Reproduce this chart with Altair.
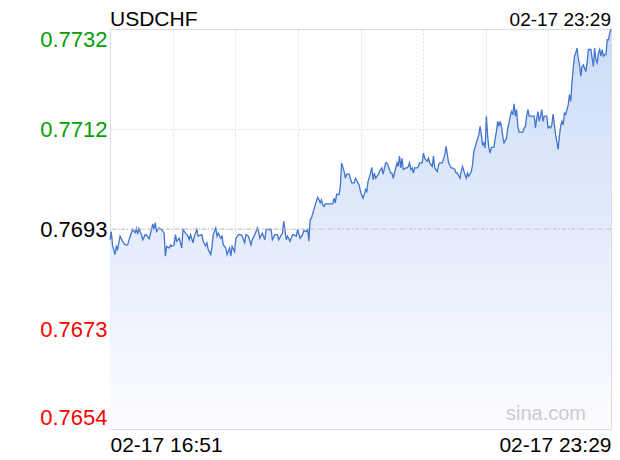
import altair as alt
import pandas as pd

# ---- data ----
symbol = "USDCHF"
last_time = "02-17 23:29"
x_labels = ["02-17 16:51", "02-17 23:29"]
x_span = 398  # minutes from 16:51 to 23:29
prev_close = 0.7693
y_ticks = [0.7654, 0.76735, 0.7693, 0.77125, 0.7732]
y_labels = ["0.7654", "0.7673", "0.7693", "0.7712", "0.7732"]

minutes = [
    0, 1, 2, 4, 5, 6, 8, 10, 12, 14, 16, 18, 20, 21, 22, 23, 25, 26, 28, 29,
    31, 32, 34, 35, 36, 37, 39, 41, 43, 44, 45, 47, 48, 49, 51, 52, 53, 55, 57, 58,
    60, 62, 63, 64, 66, 67, 69, 70, 73, 74, 76, 77, 78, 80, 81, 82, 84, 85, 86, 88,
    89, 90, 92, 93, 95, 96, 97, 99, 100, 102, 104, 105, 107, 108, 110, 112, 113, 115, 117, 118,
    119, 121, 123, 124, 126, 128, 129, 131, 133, 134, 137, 138, 140, 141, 143, 145, 146, 148, 149, 151,
    153, 154, 156, 157, 158, 159, 160, 162, 163, 164, 165, 166, 167, 168, 169, 170, 171, 173, 175, 177,
    178, 179, 180, 181, 182, 183, 184, 186, 187, 188, 189, 190, 192, 193, 194, 195, 197, 198, 199, 201,
    202, 203, 204, 205, 207, 208, 209, 210, 211, 213, 214, 216, 217, 219, 220, 222, 223, 224, 225, 227,
    228, 229, 230, 231, 232, 233, 235, 236, 237, 238, 239, 240, 241, 242, 244, 245, 246, 248, 249, 250,
    252, 253, 254, 256, 257, 258, 260, 261, 262, 264, 266, 267, 268, 269, 271, 272, 274, 275, 276, 278,
    279, 280, 282, 283, 284, 285, 287, 288, 289, 291, 293, 294, 295, 296, 297, 298, 299, 300, 301, 302,
    303, 305, 306, 307, 308, 309, 310, 311, 312, 313, 315, 316, 317, 318, 319, 320, 321, 322, 323, 324,
    325, 326, 328, 329, 330, 331, 332, 333, 334, 336, 337, 338, 339, 340, 341, 342, 343, 344, 345, 347,
    348, 349, 350, 351, 352, 353, 354, 356, 357, 358, 359, 360, 361, 362, 363, 364, 365, 366, 367, 368,
    369, 370, 371, 372, 373, 374, 375, 376, 378, 379, 380, 382, 383, 384, 385, 386, 387, 388, 389, 390,
    391, 392, 393, 394, 395, 396, 397, 398,
]
prices = [
    0.76909, 0.76925, 0.76899, 0.76880, 0.76896, 0.76890, 0.76916, 0.76906, 0.76899, 0.76899,
    0.76916, 0.76929, 0.76923, 0.76931, 0.76920, 0.76931, 0.76919, 0.76909, 0.76919, 0.76918,
    0.76911, 0.76919, 0.76940, 0.76929, 0.76942, 0.76925, 0.76932, 0.76929, 0.76922, 0.76877,
    0.76896, 0.76893, 0.76899, 0.76896, 0.76899, 0.76919, 0.76906, 0.76912, 0.76893, 0.76929,
    0.76922, 0.76916, 0.76909, 0.76919, 0.76903, 0.76916, 0.76929, 0.76916, 0.76919, 0.76906,
    0.76897, 0.76903, 0.76890, 0.76880, 0.76896, 0.76919, 0.76932, 0.76916, 0.76922, 0.76912,
    0.76916, 0.76899, 0.76893, 0.76880, 0.76893, 0.76877, 0.76896, 0.76886, 0.76912, 0.76919,
    0.76919, 0.76916, 0.76903, 0.76919, 0.76916, 0.76899, 0.76909, 0.76919, 0.76932, 0.76925,
    0.76912, 0.76922, 0.76909, 0.76929, 0.76929, 0.76929, 0.76909, 0.76919, 0.76919, 0.76909,
    0.76922, 0.76945, 0.76909, 0.76916, 0.76906, 0.76919, 0.76919, 0.76916, 0.76929, 0.76912,
    0.76919, 0.76927, 0.76925, 0.76931, 0.76906, 0.76948, 0.76951, 0.76968, 0.76977, 0.76984,
    0.76992, 0.76987, 0.76981, 0.76987, 0.76977, 0.76974, 0.76979, 0.76979, 0.76979, 0.76979,
    0.76990, 0.76981, 0.76998, 0.76997, 0.76997, 0.77013, 0.77059, 0.77042, 0.77029, 0.77037,
    0.77037, 0.77037, 0.77020, 0.77020, 0.77020, 0.77029, 0.77020, 0.77015, 0.77003, 0.76990,
    0.76997, 0.77007, 0.77003, 0.77023, 0.77039, 0.77050, 0.77026, 0.77039, 0.77029, 0.77036,
    0.77042, 0.77049, 0.77037, 0.77059, 0.77059, 0.77046, 0.77039, 0.77039, 0.77029, 0.77049,
    0.77059, 0.77052, 0.77072, 0.77049, 0.77068, 0.77046, 0.77049, 0.77049, 0.77052, 0.77059,
    0.77046, 0.77049, 0.77039, 0.77049, 0.77049, 0.77052, 0.77059, 0.77059, 0.77078, 0.77068,
    0.77062, 0.77068, 0.77059, 0.77052, 0.77072, 0.77049, 0.77042, 0.77055, 0.77059, 0.77059,
    0.77075, 0.77091, 0.77075, 0.77059, 0.77049, 0.77049, 0.77046, 0.77039, 0.77039, 0.77029,
    0.77042, 0.77052, 0.77036, 0.77029, 0.77039, 0.77033, 0.77042, 0.77055, 0.77081, 0.77098,
    0.77114, 0.77130, 0.77114, 0.77094, 0.77098, 0.77088, 0.77150, 0.77111, 0.77088, 0.77078,
    0.77089, 0.77089, 0.77107, 0.77120, 0.77140, 0.77130, 0.77140, 0.77130, 0.77111, 0.77098,
    0.77107, 0.77127, 0.77137, 0.77150, 0.77159, 0.77153, 0.77174, 0.77150, 0.77163, 0.77130,
    0.77119, 0.77119, 0.77119, 0.77127, 0.77130, 0.77150, 0.77163, 0.77150, 0.77150, 0.77150,
    0.77150, 0.77127, 0.77146, 0.77159, 0.77140, 0.77150, 0.77163, 0.77140, 0.77150, 0.77150,
    0.77127, 0.77130, 0.77127, 0.77133, 0.77154, 0.77133, 0.77114, 0.77085, 0.77111, 0.77130,
    0.77140, 0.77133, 0.77156, 0.77153, 0.77163, 0.77172, 0.77192, 0.77179, 0.77215, 0.77244,
    0.77267, 0.77273, 0.77283, 0.77263, 0.77250, 0.77228, 0.77247, 0.77250, 0.77237, 0.77254,
    0.77280, 0.77280, 0.77263, 0.77247, 0.77283, 0.77260, 0.77254, 0.77273, 0.77280, 0.77267,
    0.77280, 0.77267, 0.77270, 0.77270, 0.77299, 0.77299, 0.77312, 0.77320,
]

df = pd.DataFrame({"m": minutes, "p": prices})

FONT = "Liberation Sans"

# label expressions built from the lists
y_expr = ""
for v, lab in zip(y_ticks[:-1], y_labels[:-1]):
    y_expr += f"abs(datum.value - {v}) < 0.0001 ? '{lab}' : "
y_expr += f"'{y_labels[-1]}'"
x_expr = f"datum.value == 0 ? '{x_labels[0]}' : datum.value == {x_span} ? '{x_labels[1]}' : ''"
x_grid = [x_span * i / 8 for i in range(9)]

x_scale = alt.Scale(domain=[0, x_span], nice=False, zero=False)
y_scale = alt.Scale(domain=[y_ticks[0], y_ticks[-1]], nice=False, zero=False)

gradient = alt.Gradient(
    gradient="linear",
    stops=[alt.GradientStop(color="#cbdbf6", offset=0),
           alt.GradientStop(color="#fbfcff", offset=1)],
    x1=1, x2=1, y1=0, y2=1,
)

x_axis = alt.Axis(
    values=x_grid, labelExpr=x_expr, title=None, grid=True, gridColor="#dddddd",
    gridDash=[2, 2], domain=False, ticks=False, labelFlush=True, labelOverlap=False,
    labelFontSize=21, labelFont=FONT, labelColor="#000000", labelPadding=5,
)
y_axis = alt.Axis(
    values=y_ticks, labelExpr=y_expr, title=None, grid=True, gridColor="#dddddd",
    gridDash=[2, 2], domain=False, ticks=False, labelFlush=True, labelOverlap=False,
    labelFontSize=22, labelFont=FONT, labelPadding=3,
    labelColor={
        "condition": [
            {"test": f"datum.value > {prev_close + 0.0001}", "value": "#00a000"},
            {"test": f"datum.value < {prev_close - 0.0001}", "value": "#ff0000"},
        ],
        "value": "#000000",
    },
)

area = alt.Chart(df).mark_area(color=gradient, line=False).encode(
    x=alt.X("m:Q", scale=x_scale, axis=x_axis),
    y=alt.Y("p:Q", scale=y_scale, axis=y_axis),
    y2=alt.datum(y_ticks[0]),
)
line = alt.Chart(df).mark_line(color="#4274d0", strokeWidth=1.3).encode(
    x=alt.X("m:Q", scale=x_scale),
    y=alt.Y("p:Q", scale=y_scale),
)
mid = alt.Chart(pd.DataFrame({"v": [prev_close]})).mark_rule(
    color="#bbbbbb", strokeDash=[4, 2, 1, 2], strokeWidth=1
).encode(y=alt.Y("v:Q", scale=y_scale))

txt = pd.DataFrame({"t": [0]})
title_l = alt.Chart(txt).mark_text(
    text=symbol, align="left", baseline="alphabetic", font=FONT, fontSize=21, color="#000000"
).encode(x=alt.value(0), y=alt.value(-3))
title_r = alt.Chart(txt).mark_text(
    text=last_time, align="right", baseline="alphabetic", font=FONT, fontSize=19, color="#000000"
).encode(x=alt.value(501), y=alt.value(-3))
mark_w = alt.Chart(txt).mark_text(
    text="sina.com", align="right", baseline="alphabetic", font=FONT, fontSize=20, color="#cccccc"
).encode(x=alt.value(476), y=alt.value(391))

chart = alt.layer(area, line, mid, mark_w, title_l, title_r).properties(
    width=501, height=400,
    autosize=alt.AutoSizeParams(type="none"),
    padding={"left": 102, "top": 21, "right": 1, "bottom": 30},
).configure_view(stroke="#cccccc", strokeWidth=1).configure(background="#ffffff")

chart.save("out.html", embed_options={"renderer": "svg", "actions": False})
